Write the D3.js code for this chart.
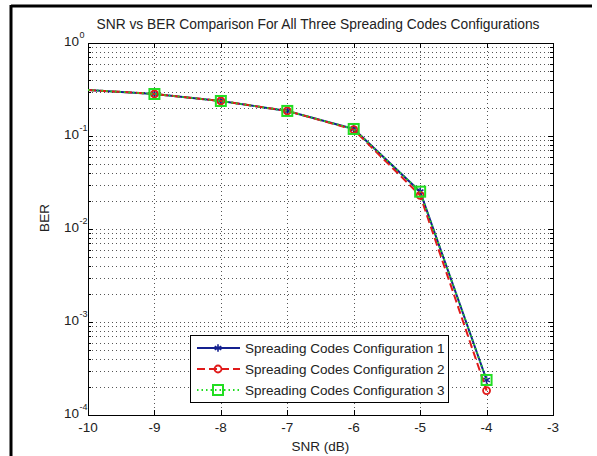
<!DOCTYPE html>
<html>
<head>
<meta charset="utf-8">
<script src="https://cdn.jsdelivr.net/npm/d3@7"></script>
<style>
  body { margin: 0; background: #fff; }
  svg { display: block; font-family: "Liberation Sans", Arial, sans-serif; }
</style>
</head>
<body>
<svg width="597" height="456"></svg>
<script>
const width = 597, height = 456;

// data
const snr = [-10, -9, -8, -7, -6, -5, -4];
const ber1 = [0.313, 0.283, 0.238, 0.186, 0.119, 0.0252, 0.000238];
const ber2 = [0.313, 0.283, 0.238, 0.186, 0.117, 0.0230, 0.000183];
const ber3 = [0.313, 0.283, 0.238, 0.186, 0.119, 0.0252, 0.000238];
const seriesNames = ["Spreading Codes Configuration 1", "Spreading Codes Configuration 2", "Spreading Codes Configuration 3"];
const xTicks = [-10, -9, -8, -7, -6, -5, -4, -3];
const yExps = [0, -1, -2, -3, -4];

const plot = {left: 88, right: 553, top: 43, bottom: 415};

const svg = d3.select("svg");

// figure frame
svg.append("line").attr("x1", 11).attr("x2", 592).attr("y1", 6).attr("y2", 6)
    .attr("stroke", "#000").attr("stroke-width", 3);
svg.append("line").attr("x1", 11).attr("x2", 11).attr("y1", 5).attr("y2", height)
    .attr("stroke", "#000").attr("stroke-width", 3);

const x = d3.scaleLinear().domain([-10, -3]).range([plot.left, plot.right]);
const y = d3.scaleLog().domain([1e-4, 1]).range([plot.bottom, plot.top]);

// minor log values
let minorVals = [];
for (let e = -4; e < 0; e++)
    for (let m = 2; m <= 9; m++) minorVals.push(m * Math.pow(10, e));
const majorVals = yExps.map(e => Math.pow(10, e));

const g = svg.append("g");

// grid
const gridStyle = sel => sel.attr("stroke", "#555").attr("stroke-width", 1)
    .attr("stroke-dasharray", "1,3").attr("shape-rendering", "crispEdges");

g.append("g").selectAll("line")
    .data(minorVals.concat(majorVals.filter(v => v > 1e-4 && v < 1)))
    .join("line")
    .attr("x1", plot.left).attr("x2", plot.right)
    .attr("y1", d => Math.round(y(d)) + 0.5).attr("y2", d => Math.round(y(d)) + 0.5)
    .call(gridStyle);

g.append("g").selectAll("line")
    .data(xTicks.filter(d => d > -10 && d < -3))
    .join("line")
    .attr("x1", d => Math.round(x(d)) + 0.5).attr("x2", d => Math.round(x(d)) + 0.5)
    .attr("y1", plot.top).attr("y2", plot.bottom)
    .call(gridStyle);

// axes box
g.append("rect")
    .attr("x", plot.left + 0.5).attr("y", plot.top + 0.5)
    .attr("width", plot.right - plot.left).attr("height", plot.bottom - plot.top)
    .attr("fill", "none").attr("stroke", "#000").attr("stroke-width", 1);

// ticks (inside, on all four sides)
const tickG = g.append("g").attr("stroke", "#000").attr("stroke-width", 1);
xTicks.forEach(d => {
    const px = Math.round(x(d)) + 0.5;
    tickG.append("line").attr("x1", px).attr("x2", px).attr("y1", plot.bottom).attr("y2", plot.bottom - 5);
    tickG.append("line").attr("x1", px).attr("x2", px).attr("y1", plot.top).attr("y2", plot.top + 5);
});
majorVals.forEach(d => {
    const py = Math.round(y(d)) + 0.5;
    tickG.append("line").attr("x1", plot.left).attr("x2", plot.left + 5).attr("y1", py).attr("y2", py);
    tickG.append("line").attr("x1", plot.right).attr("x2", plot.right - 5).attr("y1", py).attr("y2", py);
});
minorVals.forEach(d => {
    const py = Math.round(y(d)) + 0.5;
    tickG.append("line").attr("x1", plot.left).attr("x2", plot.left + 3).attr("y1", py).attr("y2", py);
    tickG.append("line").attr("x1", plot.right).attr("x2", plot.right - 3).attr("y1", py).attr("y2", py);
});

// tick labels
g.append("g").selectAll("text")
    .data(xTicks)
    .join("text")
    .attr("x", d => x(d)).attr("y", plot.bottom + 17)
    .attr("text-anchor", "middle")
    .attr("font-size", 13.5).attr("fill", "#222")
    .text(d => d);

const yl = g.append("g").selectAll("g")
    .data(yExps)
    .join("g")
    .attr("transform", d => `translate(${plot.left - 9}, ${y(Math.pow(10, d)) + 3})`);
yl.append("text").attr("x", 0).attr("y", 0).attr("text-anchor", "end")
    .attr("font-size", 13.5).attr("fill", "#222").text("10");
yl.append("text").attr("x", 0.5).attr("y", -8).attr("text-anchor", "start")
    .attr("font-size", 9).attr("fill", "#222").text(d => d);

// labels
svg.append("text").attr("x", 318).attr("y", 29).attr("text-anchor", "middle")
    .attr("font-size", 13.8).attr("fill", "#222")
    .text("SNR vs BER Comparison For All Three Spreading Codes Configurations");
svg.append("text").attr("x", x(-6.5)).attr("y", 451).attr("text-anchor", "middle")
    .attr("font-size", 13.5).attr("fill", "#222").text("SNR (dB)");
svg.append("text").attr("transform", "translate(49, 218) rotate(-90)")
    .attr("text-anchor", "middle").attr("font-size", 13.5).attr("fill", "#222").text("BER");

// series
const series = [
    {name: seriesNames[0], values: ber1, color: "#14208f", dash: null, marker: "star"},
    {name: seriesNames[1], values: ber2, color: "#e01a1a", dash: "8,4", marker: "circle"},
    {name: seriesNames[2], values: ber3, color: "#22dd22", dash: "1.5,3", marker: "square"}
];

const line = d3.line().x(d => x(d[0])).y(d => y(d[1]));

function drawMarker(sel, type, color) {
    if (type === "star") {
        sel.append("path").attr("d", d3.symbol(d3.symbolAsterisk, 40)())
            .attr("fill", "none").attr("stroke", color).attr("stroke-width", 1.6);
    } else if (type === "circle") {
        sel.append("circle").attr("r", 3.5)
            .attr("fill", "none").attr("stroke", color).attr("stroke-width", 1.8);
    } else {
        sel.append("rect").attr("x", -5).attr("y", -5).attr("width", 10).attr("height", 10)
            .attr("fill", "none").attr("stroke", color).attr("stroke-width", 2);
    }
}

series.forEach(s => {
    const pts = snr.map((v, i) => [v, s.values[i]]);
    g.append("path").datum(pts)
        .attr("d", line)
        .attr("fill", "none").attr("stroke", s.color).attr("stroke-width", 2)
        .attr("stroke-dasharray", s.dash);
    // markers at points inside the axes (the one on the left edge is clipped)
    g.append("g").selectAll("g")
        .data(pts.filter(p => p[0] > -10))
        .join("g")
        .attr("transform", p => `translate(${x(p[0])}, ${y(p[1])})`)
        .each(function() { drawMarker(d3.select(this), s.marker, s.color); });
});

// legend
const leg = svg.append("g");
leg.append("rect").attr("x", 190.5).attr("y", 335.5).attr("width", 258).attr("height", 67)
    .attr("fill", "#fff").attr("stroke", "#000").attr("stroke-width", 1);
const rows = leg.selectAll("g.row")
    .data(series)
    .join("g")
    .attr("class", "row")
    .attr("transform", (d, i) => `translate(0, ${348 + i * 21})`);
rows.append("line").attr("x1", 197).attr("x2", 240).attr("y1", 0).attr("y2", 0)
    .attr("stroke", d => d.color).attr("stroke-width", 2)
    .attr("stroke-dasharray", d => d.dash);
rows.each(function(d) {
    const m = d3.select(this).append("g").attr("transform", "translate(218, 0)");
    drawMarker(m, d.marker, d.color);
});
rows.append("text").attr("x", 245).attr("y", 4.5)
    .attr("font-size", 13.5).attr("fill", "#222")
    .text(d => d.name);
</script>
</body>
</html>
